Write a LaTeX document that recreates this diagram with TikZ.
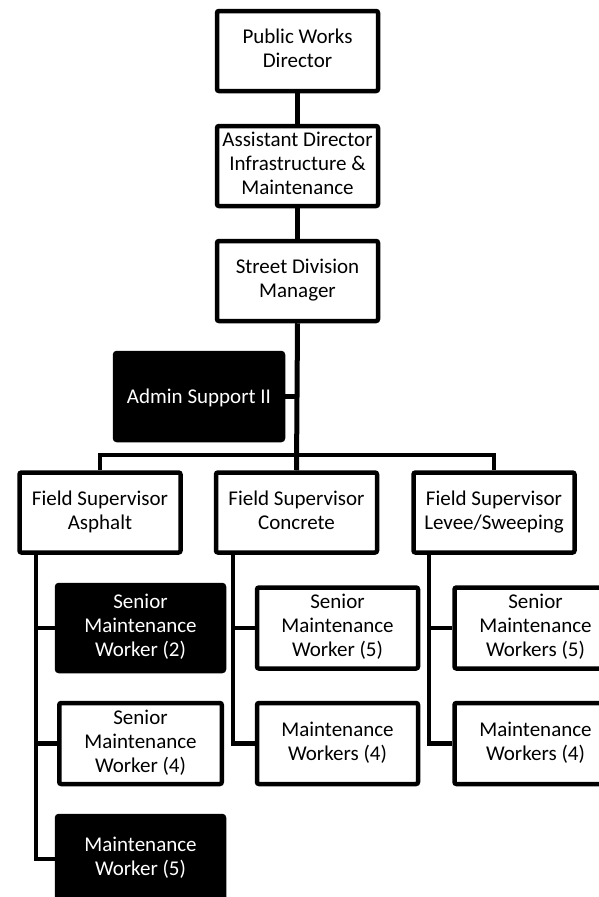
\documentclass[tikz,border=0pt]{standalone}
\usepackage{fontspec}
\setmainfont{Carlito}
\newcommand{\boxstrut}{\rule[-5pt]{0pt}{24.5pt}}
\begin{document}
\begin{tikzpicture}[x=1pt,y=-1pt,
  orgbox/.style={draw=black, line width=4.5pt, rounded corners=2pt,
    minimum width=161pt, minimum height=80pt, inner sep=0pt, align=center,
    font=\fontsize{21}{24}\selectfont,
    execute at begin node=\boxstrut, execute at end node=\boxstrut},
  darkbox/.style={orgbox, fill=black, text=white},
  link/.style={line width=5pt},
  barlink/.style={line width=4.5pt}]
\useasboundingbox (0,0) rectangle (599,897);
\clip (0,0) rectangle (599,897);

% top of the chain
\node[orgbox] (pwd) at (297.5,51) {Public Works\\Director};
\node[orgbox] (ad)  at (297.5,166) {Assistant Director\\Infrastructure \&\\Maintenance};
\node[orgbox] (sdm) at (297.5,281) {Street Division\\Manager};
\node[darkbox, minimum width=168pt, minimum height=87pt] (adm) at (199,396.5) {Admin Support II};

% field supervisors
\node[orgbox] (fsa) at (100,512.5) {Field Supervisor\\Asphalt};
\node[orgbox] (fsc) at (296.5,512.5) {Field Supervisor\\Concrete};
\node[orgbox] (fsl) at (494,512.5) {Field Supervisor\\Levee/Sweeping};

% asphalt crews
\node[darkbox, minimum width=167pt, minimum height=86pt] (a1) at (140.5,628) {Senior\\Maintenance\\Worker (2)};
\node[orgbox, minimum width=162.5pt, minimum height=81pt] (a2) at (140.5,743.5) {Senior\\Maintenance\\Worker (4)};
\node[darkbox, minimum width=167pt, minimum height=86pt] (a3) at (140.5,859) {Maintenance\\Worker (5)};

% concrete crews
\node[orgbox, minimum width=161pt, minimum height=81pt] (c1) at (337.5,628) {Senior\\Maintenance\\Worker (5)};
\node[orgbox, minimum width=161pt, minimum height=81pt] (c2) at (337.5,743.5) {Maintenance\\Workers (4)};

% levee/sweeping crews
\node[orgbox, minimum width=162pt, minimum height=81pt] (l1) at (535.5,628) {Senior\\Maintenance\\Workers (5)};
\node[orgbox, minimum width=162pt, minimum height=81pt] (l2) at (535.5,743.5) {Maintenance\\Workers (4)};

% reporting lines
\coordinate (bar) at (0,455);
\coordinate (aspine) at (36,0);
\coordinate (cspine) at (233,0);
\coordinate (lspine) at (429,0);

\draw[link] (pwd.south) -- (ad.north);
\draw[link] (ad.south) -- (sdm.north);
\draw[link] (sdm.south) -- (fsc.north);
\draw[barlink] (adm.east) -- (adm.east -| sdm.south);
\draw[barlink] (fsa.north) -- (fsa.north |- bar) -- (fsl.north |- bar) -- (fsl.north);

\draw[barlink] (aspine |- fsa.south) |- (a3.west);
\draw[barlink] (aspine |- a1.west) -- (a1.west);
\draw[barlink] (aspine |- a2.west) -- (a2.west);

\draw[barlink] (cspine |- fsc.south) |- (c2.west);
\draw[barlink] (cspine |- c1.west) -- (c1.west);

\draw[barlink] (lspine |- fsl.south) |- (l2.west);
\draw[barlink] (lspine |- l1.west) -- (l1.west);
\end{tikzpicture}
\end{document}
